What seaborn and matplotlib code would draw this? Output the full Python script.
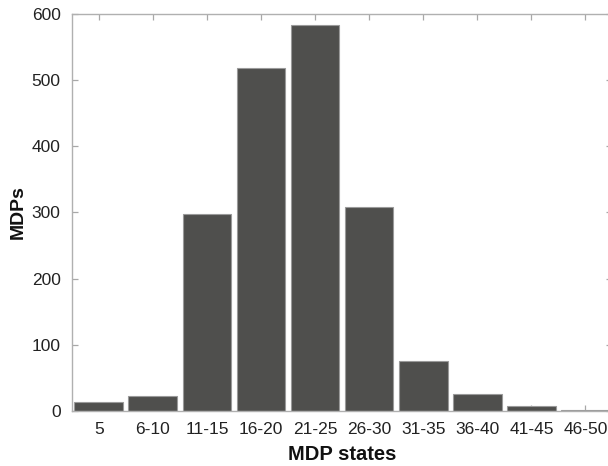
import matplotlib
matplotlib.use("Agg")
import matplotlib.pyplot as plt
import seaborn as sns
import pandas as pd

states = ["5", "6-10", "11-15", "16-20", "21-25", "26-30",
          "31-35", "36-40", "41-45", "46-50"]
counts = [14, 23, 297, 518, 583, 308, 75, 25, 7, 2]
y_ticks = [0, 100, 200, 300, 400, 500, 600]

df = pd.DataFrame({"state": states, "count": counts})

sns.set_theme(style="white")
plt.rcParams["font.family"] = ["Liberation Sans", "DejaVu Sans"]

fig = plt.figure(figsize=(6.08, 4.66), dpi=100)
ax = fig.add_axes([71.7 / 608, 55 / 466, (612.5 - 71.7) / 608, (411 - 14) / 466])

sns.barplot(data=df, x="state", y="count", ax=ax, color="#4f4f4d",
            saturation=1, width=0.9, edgecolor="#9a9a9a", linewidth=0.8)

ax.set_xlim(-0.5, len(states) - 0.5)
ax.set_ylim(0, 600)
ax.set_yticks(y_ticks)

for side in ["left", "right", "top", "bottom"]:
    ax.spines[side].set_visible(True)
    ax.spines[side].set_color("#b0b0b0")
    ax.spines[side].set_linewidth(1.0)

ax.tick_params(axis="both", which="both", direction="in", length=4, width=0.9,
               color="#a8a8a8", labelsize=12.5, labelcolor="#222222",
               top=True, right=True, bottom=True, left=True)
ax.tick_params(axis="x", pad=8)
ax.tick_params(axis="y", pad=8)

ax.set_xlabel("MDP states", fontsize=14.5, fontweight="bold", color="#111111", labelpad=6)
ax.set_ylabel("MDPs", fontsize=14, fontweight="bold", color="#111111", labelpad=3.5)

fig.savefig("out.png", dpi=100)
